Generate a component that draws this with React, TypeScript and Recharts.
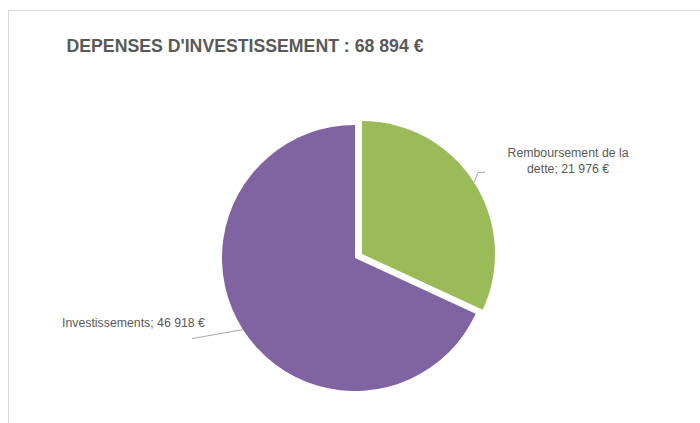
import React from 'react';
import { PieChart, Pie, Cell } from 'recharts';

// Chart values
const title = "DEPENSES D'INVESTISSEMENT : 68 894 €";
const categories = ['Remboursement de la dette', 'Investissements'];
const values = [21976, 46918];
const labelLines = [['Remboursement de la', 'dette; 21 976 €'], ['Investissements; 46 918 €']];
const colors = ['#9BBB59', '#8064A2'];

const data = categories.map((name, i) => ({ name, value: values[i] }));

const RAD = Math.PI / 180;
const textColor = '#595959';
const lineColor = '#a6a6a6';
const font = '"Liberation Sans", Arial, sans-serif';

// point on the outer edge at the middle of the slice
const edgePoint = (p: any) => ({
  x: p.cx + p.outerRadius * Math.cos(-p.midAngle * RAD),
  y: p.cy + p.outerRadius * Math.sin(-p.midAngle * RAD),
});

const renderLabel = (only: number) => (props: any) => {
  if (props.index !== only) return null;
  const { x, y } = edgePoint(props);
  if (only === 0) {
    return (
      <g>
        <path d={`M${x},${y} L${x + 4},${y - 10} L${x + 11},${y - 10}`} stroke={lineColor} fill="none" strokeWidth={1} />
        <text x={x + 94} y={y - 25} textAnchor="middle" fill={textColor} fontSize={12.3} fontFamily={font}>
          {labelLines[0][0]}
        </text>
        <text x={x + 94} y={y - 9} textAnchor="middle" fill={textColor} fontSize={12.3} fontFamily={font}>
          {labelLines[0][1]}
        </text>
      </g>
    );
  }
  return (
    <g>
      <path d={`M${x},${y} L${x - 51},${y + 9}`} stroke={lineColor} fill="none" strokeWidth={1} />
      <text x={x - 38} y={y - 3} textAnchor="end" fill={textColor} fontSize={12.3} fontFamily={font}>
        {labelLines[1][0]}
      </text>
    </g>
  );
};

const App: React.FC = () => {
  return (
    <div style={{ position: 'absolute', left: 0, top: 0, width: 700, height: 423, background: '#fff', overflow: 'hidden' }}>
      <div
        style={{
          position: 'absolute',
          left: 8,
          top: 10,
          width: 720,
          height: 440,
          borderTop: '1.5px solid #d9d9d9',
          borderLeft: '1px solid #d9d9d9',
        }}
      />
      <svg width={700} height={423} style={{ position: 'absolute', left: 0, top: 0 }}>
        <text x={66.5} y={51.5} fill={textColor} fontSize={18} fontWeight="bold" fontFamily={font} textLength={357} lengthAdjust="spacingAndGlyphs">
          {title}
        </text>
      </svg>
      <div style={{ position: 'absolute', left: 0, top: 0 }}>
        <PieChart width={700} height={423} margin={{ top: 0, right: 0, bottom: 0, left: 0 }}>
          {/* main (purple) slice */}
          <Pie
            data={data}
            dataKey="value"
            nameKey="name"
            cx={355}
            cy={258}
            outerRadius={133}
            startAngle={90}
            endAngle={-270}
            stroke="none"
            labelLine={false}
            label={renderLabel(1)}
            isAnimationActive={false}
          >
            {data.map((_, i) => (
              <Cell key={i} fill={i === 1 ? colors[1] : 'transparent'} stroke="none" />
            ))}
          </Pie>
          {/* exploded (green) slice */}
          <Pie
            data={data}
            dataKey="value"
            nameKey="name"
            cx={362}
            cy={254}
            outerRadius={133}
            startAngle={90}
            endAngle={-270}
            stroke="none"
            labelLine={false}
            label={renderLabel(0)}
            isAnimationActive={false}
          >
            {data.map((_, i) => (
              <Cell key={i} fill={i === 0 ? colors[0] : 'transparent'} stroke="none" />
            ))}
          </Pie>
        </PieChart>
      </div>
    </div>
  );
};

export default App;
